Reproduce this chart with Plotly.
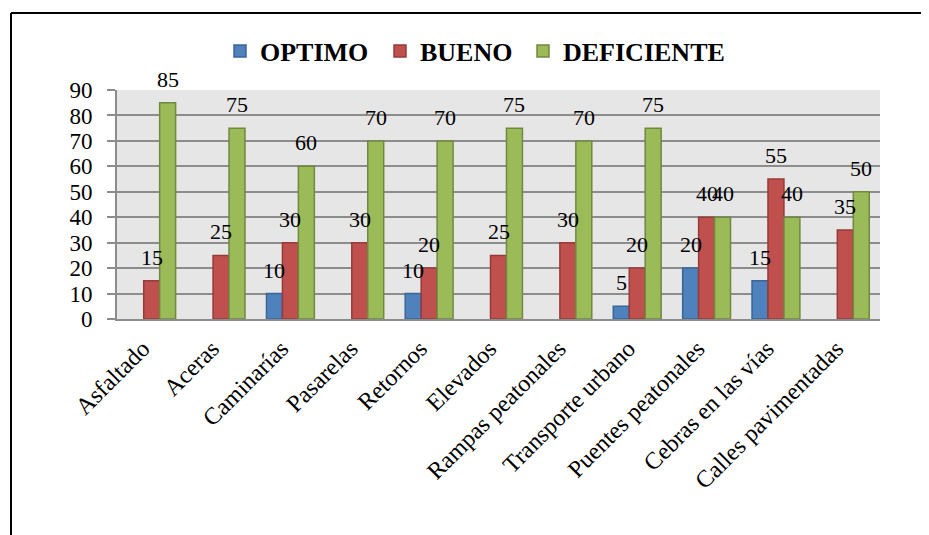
import plotly.graph_objects as go

categories = ["Asfaltado", "Aceras", "Caminarías", "Pasarelas", "Retornos", "Elevados",
              "Rampas peatonales", "Transporte urbano", "Puentes peatonales",
              "Cebras en las vías", "Calles pavimentadas"]
optimo = [None, None, 10, None, 10, None, None, 5, 20, 15, None]
bueno = [15, 25, 30, 30, 20, 25, 30, 20, 40, 55, 35]
deficiente = [85, 75, 60, 70, 70, 75, 70, 75, 40, 40, 50]
y_ticks = [0, 10, 20, 30, 40, 50, 60, 70, 80, 90]

FONT = "Liberation Serif"

series = [
    ("OPTIMO", optimo, "#4F81BD", "#3A6597", "legend", 220),
    ("BUENO", bueno, "#C0504D", "#953B39", "legend2", 380),
    ("DEFICIENTE", deficiente, "#9BBB59", "#71893F", "legend3", 523),
]

# page has an 8px body margin; figure sized to reach page edges
OFF = 8
W, H = 921, 527
L, R, T, B = 109, 49, 82, 216
pw, ph = W - L - R, H - T - B
BARGAP = 0.31
bar_px = pw / len(categories) * (1 - BARGAP) / len(series)


def px(x):
    return (x - OFF - L) / pw


def py(y):
    return (H - B - (y - OFF)) / ph


fig = go.Figure()
annotations = []
legends = {}
for i, (name, vals, col, edge, lg, lgx) in enumerate(series):
    fig.add_trace(go.Bar(
        name=name, x=categories, y=vals, legend=lg,
        marker=dict(color=col, line=dict(color=edge, width=1.5)),
    ))
    legends[lg] = dict(x=px(lgx), xanchor="left", y=py(51), yanchor="middle",
                       orientation="h", itemwidth=30, bgcolor="rgba(0,0,0,0)",
                       font=dict(family=FONT, size=26, color="black", weight="bold"))
    for c, v in zip(categories, vals):
        if v:
            annotations.append(dict(
                x=c, y=v, xref="x", yref="y", text=str(v), showarrow=False,
                xanchor="center", yanchor="bottom", xshift=(i - 1) * bar_px, yshift=9,
                font=dict(family=FONT, size=22, color="black"),
            ))

fig.update_layout(
    width=W, height=H,
    margin=dict(l=L, r=R, t=T, b=B, autoexpand=False),
    paper_bgcolor="white", plot_bgcolor="#E6E6E6",
    barmode="group", bargap=BARGAP, bargroupgap=0,
    font=dict(family=FONT, size=21, color="black"),
    showlegend=True,
    **legends,
    xaxis=dict(tickangle=-45, showgrid=False, showline=True, linecolor="#8C8C8C", linewidth=2,
               ticks="", ticklabelshift=-9, ticklabelstandoff=4,
               tickfont=dict(family=FONT, size=24, color="black")),
    yaxis=dict(range=[0, 90], tickvals=y_ticks, showgrid=True, gridcolor="#8C8C8C", gridwidth=1.5,
               showline=True, linecolor="#8C8C8C", linewidth=2, ticks="outside", ticklen=8,
               tickcolor="#8C8C8C", tickwidth=1.5, zeroline=False, ticklabelstandoff=10,
               tickfont=dict(family=FONT, size=23, color="black")),
    annotations=annotations,
    shapes=[
        dict(type="line", xref="paper", yref="paper", x0=px(11), x1=px(935), y0=py(13), y1=py(13),
             line=dict(color="black", width=2)),
        dict(type="line", xref="paper", yref="paper", x0=px(11), x1=px(11), y0=py(13), y1=py(540),
             line=dict(color="black", width=2)),
    ],
)

fig.write_html("out.html")
